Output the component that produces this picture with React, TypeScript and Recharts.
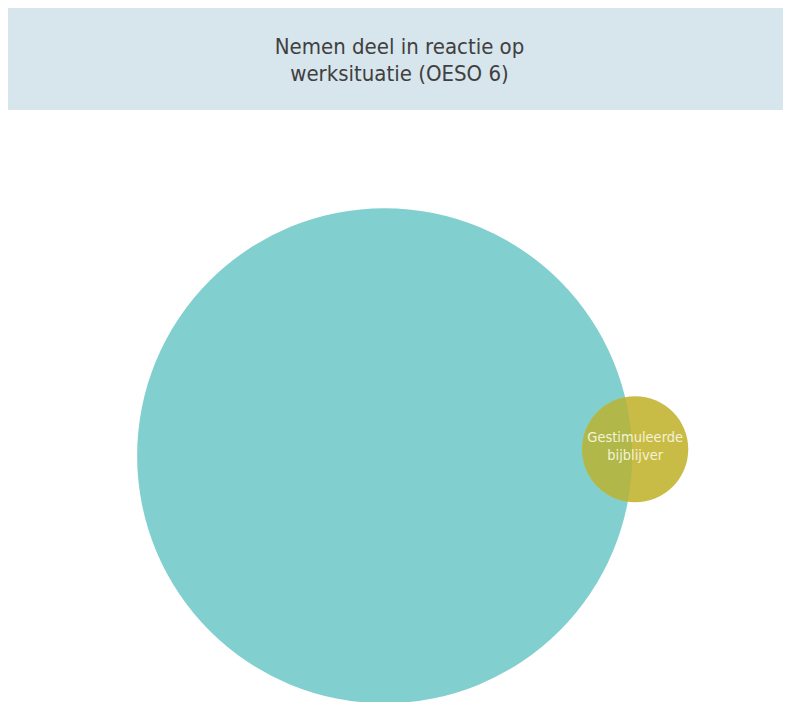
import React from "react";
import { ScatterChart, Scatter, XAxis, YAxis, ZAxis } from "recharts";

// Venn layout: circle centres in a 0-100 plane, size = area share
const setNames = ["Nemen deel in reactie op werksituatie", "Gestimuleerde bijblijver"];
const setX = [48.1, 80.1];
const setY = [41.6, 42.7];
const setSize = [100, 4.6];
const setLabels = [[], ["Gestimuleerde", "bijblijver"]];

const bigData = [{ name: setNames[0], x: setX[0], y: setY[0], z: setSize[0], label: setLabels[0] }];
const smallData = [{ name: setNames[1], x: setX[1], y: setY[1], z: setSize[1], label: setLabels[1] }];

const BigCircle = (props: any) => {
  const { cx, cy, width } = props;
  const r = width / 2;
  return (
    <g>
      <defs>
        <clipPath id="bigClip">
          <circle cx={cx} cy={cy} r={r} />
        </clipPath>
      </defs>
      <circle cx={cx} cy={cy} r={r} fill="#81d0cf" />
    </g>
  );
};

const SmallCircle = (props: any) => {
  const { cx, cy, width, payload } = props;
  const r = width / 2;
  const lines: string[] = payload.label || [];
  return (
    <g>
      <circle cx={cx} cy={cy} r={r} fill="#c9bc46" />
      <circle cx={cx} cy={cy} r={r} fill="#b1b849" clipPath="url(#bigClip)" />
      <text
        x={cx}
        y={cy - 11}
        textAnchor="middle"
        fill="#f4f2d8"
        fontSize={14.5}
        fontFamily="'DejaVu Sans Condensed', 'DejaVu Sans', sans-serif"
      >
        {lines.map((l, i) => (
          <tspan key={i} x={cx} dy={i === 0 ? 4 : 18}>
            {l}
          </tspan>
        ))}
      </text>
    </g>
  );
};

export default function App() {
  return (
    <div style={{ width: 783, fontFamily: "'DejaVu Sans Condensed', 'DejaVu Sans', sans-serif" }}>
      <div
        style={{
          height: 102,
          backgroundColor: "#d7e5ec",
          color: "#404040",
          fontSize: 22,
          lineHeight: "27px",
          textAlign: "center",
          boxSizing: "border-box",
          paddingTop: 25,
        }}
      >
        Nemen deel in reactie op
        <br />
        werksituatie (OESO 6)
      </div>
      <ScatterChart width={783} height={592} margin={{ top: 0, right: 0, bottom: 0, left: 0 }}>
        <XAxis type="number" dataKey="x" domain={[0, 100]} hide />
        <YAxis type="number" dataKey="y" domain={[0, 100]} hide />
        <ZAxis type="number" dataKey="z" domain={[0, 100]} range={[0, 192442]} />
        <Scatter name={setNames[0]} data={bigData} shape={BigCircle} isAnimationActive={false} />
        <Scatter name={setNames[1]} data={smallData} shape={SmallCircle} isAnimationActive={false} />
      </ScatterChart>
    </div>
  );
}
